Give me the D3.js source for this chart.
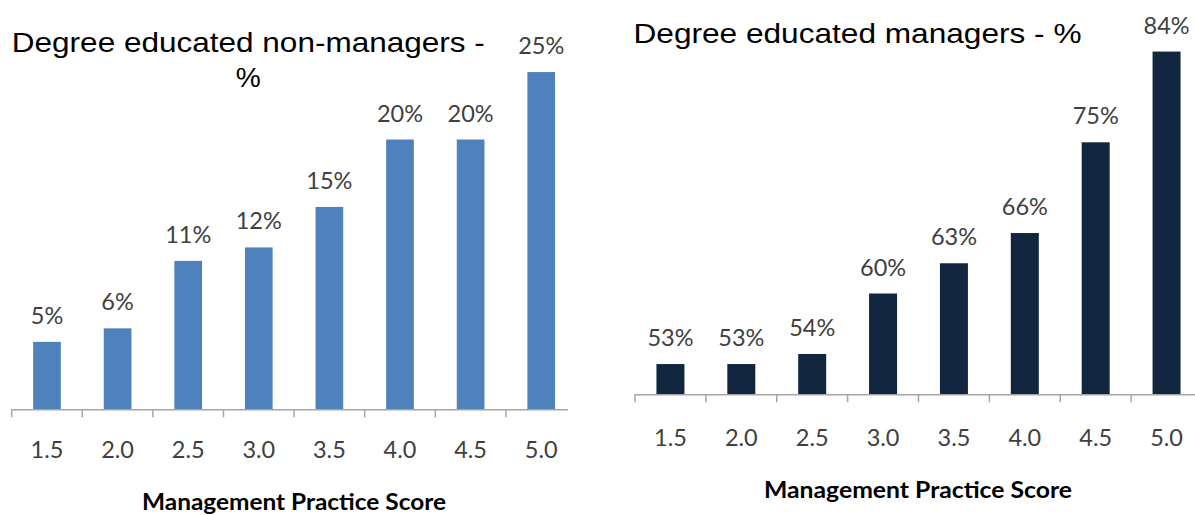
<!DOCTYPE html>
<html>
<head>
<meta charset="utf-8">
<script src="https://cdn.jsdelivr.net/npm/d3@7"></script>
<style>
  html, body { margin: 0; padding: 0; background: #ffffff; }
  svg { display: block; }
</style>
</head>
<body>
<svg id="chart" width="1195" height="515"></svg>
<script>
// ---- data ----
const categories = ["1.5", "2.0", "2.5", "3.0", "3.5", "4.0", "4.5", "5.0"];
const nonManagersPct = [5, 6, 11, 12, 15, 20, 20, 25];
const managersPct = [53, 53, 54, 60, 63, 66, 75, 84];
const axisTitle = "Management Practice Score";
const leftTitleLines = ["Degree educated non-managers -", "%"];
const rightTitleLines = ["Degree educated managers - %"];

const svg = d3.select("#chart");
const labelFont = "Lato, 'Open Sans', sans-serif";
const titleFont = "'Liberation Sans', Arial, sans-serif";
const axisColor = "#a6a6a6";
const textColor = "#404040";

function drawPanel(cfg) {
  const g = svg.append("g");
  const x = d3.scaleBand()
    .domain(categories)
    .range([cfg.x0, cfg.x1])
    .paddingInner(cfg.pad)
    .paddingOuter(cfg.pad / 2);
  const y = d3.scaleLinear()
    .domain(cfg.yDomain)
    .range([cfg.base, cfg.base - (cfg.yDomain[1] - cfg.yDomain[0]) * cfg.pxPer]);

  // bars
  g.selectAll("rect.bar")
    .data(cfg.values)
    .join("rect")
    .attr("class", "bar")
    .attr("x", (d, i) => x(categories[i]))
    .attr("width", x.bandwidth())
    .attr("y", d => y(d))
    .attr("height", d => y(cfg.yDomain[0]) - y(d))
    .attr("fill", cfg.color);

  // data labels
  g.selectAll("text.val")
    .data(cfg.values)
    .join("text")
    .attr("class", "val")
    .attr("x", (d, i) => x(categories[i]) + x.bandwidth() / 2)
    .attr("y", d => y(d) - 18)
    .attr("text-anchor", "middle")
    .attr("font-family", labelFont)
    .attr("font-size", 23.5)
    .attr("fill", textColor)
    .text(d => d + "%");

  // axis line and boundary ticks
  const step = x.step();
  const start = x(categories[0]) - step * cfg.pad / 2;
  g.append("line")
    .attr("x1", start).attr("x2", cfg.lineEnd)
    .attr("y1", cfg.base + 0.5).attr("y2", cfg.base + 0.5)
    .attr("stroke", axisColor).attr("stroke-width", 1.5);
  const tickPos = d3.range(categories.length).map(i => start + i * step);
  g.selectAll("line.tick")
    .data(tickPos)
    .join("line")
    .attr("class", "tick")
    .attr("x1", d => d).attr("x2", d => d)
    .attr("y1", cfg.base).attr("y2", cfg.base + 8)
    .attr("stroke", axisColor).attr("stroke-width", 1.5);

  // tick labels through band axis (no tick marks)
  const ax = g.append("g")
    .attr("transform", `translate(0,${cfg.base})`)
    .call(d3.axisBottom(x).tickSize(0).tickPadding(0));
  ax.select(".domain").remove();
  ax.selectAll("text")
    .attr("dy", null)
    .attr("y", cfg.tickLabelY - cfg.base)
    .attr("font-family", labelFont)
    .attr("font-size", 23.5)
    .attr("fill", textColor);

  // axis title
  g.append("text")
    .attr("x", cfg.axisTitleX)
    .attr("y", cfg.axisTitleY)
    .attr("text-anchor", "middle")
    .attr("font-family", labelFont)
    .attr("font-weight", "bold")
    .attr("font-size", 23)
    .attr("textLength", cfg.axisTitleW)
    .attr("lengthAdjust", "spacingAndGlyphs")
    .attr("fill", "#000")
    .text(axisTitle);

  // chart title
  cfg.titleLines.forEach((t, i) => {
    const tx = g.append("text")
      .attr("x", cfg.titleX)
      .attr("y", cfg.titleY + i * 34.4)
      .attr("text-anchor", "middle")
      .attr("font-family", titleFont)
      .attr("font-size", cfg.titleSize)
      .attr("fill", "#000")
      .text(t);
    if (cfg.titleW[i]) {
      tx.attr("textLength", cfg.titleW[i]).attr("lengthAdjust", "spacingAndGlyphs");
    }
  });
}

drawPanel({
  values: nonManagersPct,
  color: "#4f81bd",
  x0: 11.7, x1: 576.5, pad: 0.608,
  yDomain: [0, 30], base: 409.3, pxPer: 13.49,
  lineEnd: 568,
  tickLabelY: 458.3,
  axisTitleX: 294, axisTitleY: 509.5, axisTitleW: 304,
  titleLines: leftTitleLines, titleX: 248.3, titleY: 52.3, titleSize: 28.5,
  titleW: [473, 25]
});

drawPanel({
  values: managersPct,
  color: "#12263f",
  x0: 635, x1: 1202, pad: 0.605,
  yDomain: [50, 90], base: 394.3, pxPer: 10.08,
  lineEnd: 1195,
  tickLabelY: 445.7,
  axisTitleX: 918, axisTitleY: 497.7, axisTitleW: 308,
  titleLines: rightTitleLines, titleX: 857.5, titleY: 43.3, titleSize: 27.5,
  titleW: [448]
});
</script>
</body>
</html>
